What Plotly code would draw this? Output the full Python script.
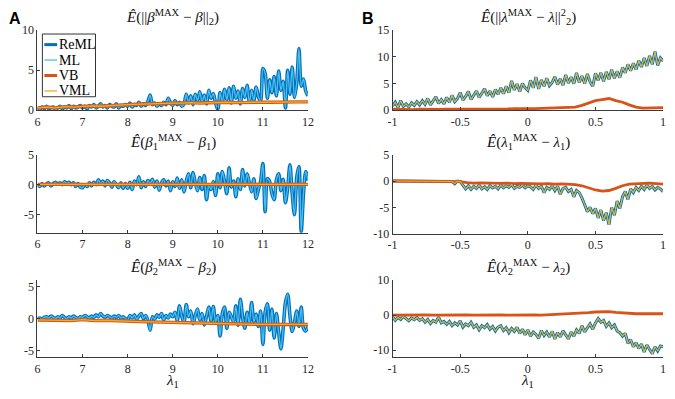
import numpy as np
import plotly.graph_objects as go

# ---------------- data ----------------
# Column A: x = lambda_1 from 6 to 12
A_top_reml = [0.3,0.1,0.4,0.2,0.5,0.2,0.3,0.4,0.1,0.3,0.5,0.2,0.4,0.3,0.6,0.2,0.5,0.3,0.4,0.6,
              0.3,0.5,0.2,0.6,0.4,0.7,0.3,0.5,0.8,0.4,0.6,0.3,0.7,0.5,0.4,0.8,0.3,0.6,0.5,0.7,
              0.5,0.9,0.4,0.7,0.6,1.0,0.5,0.8,0.6,1.1,1.9,0.7,0.9,0.5,0.8,0.6,1.0,0.7,1.5,0.9,
              0.6,1.2,0.7,1.0,0.5,0.8,2.0,0.9,1.8,0.7,2.0,1.2,2.3,1.0,1.9,0.8,2.5,1.5,2.1,0.9,
              0.1,2.2,1.0,2.6,1.3,2.8,0.9,3.0,1.5,2.4,0.8,2.7,1.6,3.1,1.0,2.5,1.2,2.9,1.7,1.1,
              5.2,4.6,1.5,3.8,2.2,4.2,1.8,4.9,2.5,3.6,0.3,5.0,2.0,5.4,1.6,3.4,7.7,3.0,3.9,2.4,
              1.8]
A_top_vb = [0.3,0.4,0.3,0.45,0.4,0.5,0.55,0.5,0.6,0.65,0.7,0.75,0.8,0.85,0.85,0.9,
            0.9,0.95,0.9,0.95,0.95,1.0,0.95,1.0,1.0,1.0,1.0,1.05,1.0,1.05,1.05]

A_mid_reml = [0.0,-0.3,0.2,-0.2,0.1,0.3,-0.2,0.2,0.4,0.1,0.3,0.0,0.5,0.2,0.4,0.0,0.3,-0.3,0.2,-0.4,
              -0.5,0.0,-0.3,0.3,-0.2,0.4,0.0,0.8,0.2,0.6,-0.2,0.7,0.3,-0.4,0.5,0.0,-0.5,0.3,-0.6,0.2,
              -0.6,0.4,-0.8,0.6,0.0,1.3,-0.5,0.5,-0.3,0.7,0.2,0.9,-0.4,0.6,-0.9,0.3,0.8,-0.2,0.6,-1.0,
              0.5,-0.3,1.1,-0.6,0.8,-1.2,0.6,1.8,-0.5,2.0,0.3,-1.0,1.2,-0.8,1.5,-2.5,0.0,-0.8,0.5,-1.8,
              1.8,-0.5,2.2,0.5,-1.5,2.8,-0.4,0.6,-2.0,1.0,-0.8,2.5,-0.2,1.8,0.3,-1.2,1.0,-2.3,-0.8,0.6,
              3.5,-4.5,1.0,0.5,-1.5,-2.5,0.8,1.8,-1.0,0.9,-3.0,-0.5,3.3,-1.5,-5.0,1.2,3.0,-7.8,-1.5,2.2,
              0.7]
A_mid_vb = [0.05,0.05,0.05,0.05,0.05,0.05,0.05,0.05,0.05,0.05,0.05,0.05,0.05]

A_bot_reml = [0.0,0.1,-0.1,0.2,0.3,0.1,0.4,0.2,0.0,0.3,0.1,0.5,0.2,0.0,0.3,0.1,0.4,0.2,0.0,0.3,
              0.2,0.5,0.3,0.1,0.4,0.2,0.6,0.3,0.8,0.4,0.2,0.5,0.3,0.1,0.4,0.2,0.5,0.1,0.3,0.0,
              -0.2,0.5,0.1,0.6,-0.1,0.4,0.8,0.0,0.5,-0.3,-1.8,0.3,-0.1,0.6,0.2,0.8,-0.2,0.5,0.1,0.7,
              0.3,1.0,-0.3,2.0,0.4,-0.6,2.2,0.3,1.2,-0.8,0.5,1.5,-0.2,0.8,-1.0,0.4,1.8,-0.4,1.9,-0.5,
              0.5,-2.7,0.8,1.8,-1.5,1.0,0.3,-0.5,2.0,-1.0,3.0,0.2,-1.5,1.0,-0.8,2.5,-0.5,0.7,-1.2,1.2,
              -4.0,1.0,2.3,-1.8,1.5,-3.0,0.8,-2.2,-4.7,-1.5,2.5,3.8,0.5,-2.0,-0.6,1.2,-1.2,1.8,-1.5,-1.9,
              -1.2]
A_bot_vb = [-0.2,-0.25,-0.2,-0.3,-0.15,-0.3,-0.25,-0.35,-0.4,-0.45,-0.5,-0.55,-0.6,
            -0.65,-0.7,-0.75,-0.8,-0.8,-0.85,-0.85,-0.9,-0.9,-0.9,-0.85,-0.9]

# Column B: x = lambda_1 from -1 to 1
B_top_reml = [0.8,1.5,0.5,1.8,0.7,1.2,0.6,1.4,0.9,1.6,
              1.0,1.8,1.1,2.2,1.0,1.7,2.5,1.3,2.0,1.2,
              2.4,1.5,2.8,1.6,2.2,3.3,1.9,2.6,3.5,2.0,
              2.8,3.6,2.4,3.2,4.0,2.7,3.6,2.5,3.9,3.0,
              4.2,3.1,4.5,3.3,5.5,3.8,4.9,3.5,5.0,4.2,
              3.7,5.6,4.2,6.2,4.0,5.7,4.5,6.0,4.6,5.2,
              6.3,4.8,5.9,4.7,6.6,5.1,6.2,5.0,7.0,5.2,
              6.4,5.0,6.8,5.3,4.5,6.9,5.6,7.0,5.4,7.2,
              5.8,7.6,6.0,7.3,6.1,8.0,7.0,8.6,7.4,8.8,
              7.6,9.3,8.1,9.8,8.3,10.2,8.6,11.0,8.4,9.8,
              9.2]
B_top_vb = [0.2,0.15,0.2,0.1,0.2,0.15,0.2,0.15,0.2,0.2,0.15,0.2,0.2,0.25,0.2,0.25,0.2,0.25,0.3,0.25,
            0.3,0.3,0.35,0.3,0.35,0.4,0.5,0.6,0.9,1.4,1.8,2.0,2.2,1.8,1.5,1.0,0.6,0.4,0.4,0.5,0.5]

B_mid_reml = [0,0,0,0,0,0,0,0,0,0,
              0,0,0,0,0,0,0,0,0,0,
              0,0,-0.1,-0.5,0,-0.1,-0.8,-1.5,-0.9,-1.6,
              -1.0,-1.4,-0.8,-1.5,-1.1,-1.6,-0.9,-1.3,-1.0,-1.5,
              -0.8,-1.3,-0.9,-1.2,-0.7,-1.4,-1.0,-1.2,-0.8,-1.3,
              -0.9,-1.1,-1.6,-0.8,-1.4,-1.0,-2.2,-1.2,-1.6,-0.9,
              -1.8,-1.0,-2.5,-1.4,-1.2,-2.0,-1.6,-3.0,-1.8,-2.2,
              -3.2,-4.5,-5.8,-5.0,-6.2,-5.2,-7.0,-5.5,-7.5,-6.0,
              -8.3,-5.0,-6.5,-3.8,-5.2,-3.0,-2.0,-3.5,-1.5,-2.2,
              -1.2,-1.8,-1.0,-1.6,-0.8,-1.4,-1.0,-1.7,-1.2,-1.5,
              -2.0]
B_mid_vb = [0,0,0,0,0,0,0,0,0,0,
            -0.1,-0.3,-0.4,-0.35,-0.4,-0.4,-0.45,-0.4,-0.5,-0.45,
            -0.5,-0.5,-0.55,-0.5,-0.6,-0.55,-0.6,-0.7,-0.9,-1.3,
            -1.7,-1.9,-1.8,-1.4,-0.9,-0.6,-0.5,-0.5,-0.4,-0.5,-0.6]

B_bot_reml = [-0.5,-1.5,-0.6,-1.2,-0.4,-1.0,-1.6,-0.8,-1.3,-0.7,
              -1.5,-1.0,-2.0,-1.2,-2.4,-1.5,-2.0,-0.6,-2.2,-1.8,
              -2.6,-1.8,-3.0,-2.2,-2.8,-1.6,-3.4,-2.5,-3.0,-2.0,
              -3.5,-2.8,-4.2,-3.0,-3.6,-2.7,-4.0,-3.2,-4.5,-3.4,
              -3.0,-4.4,-3.6,-5.0,-3.8,-4.6,-3.5,-5.2,-4.0,-5.6,
              -4.2,-6.0,-4.8,-5.5,-6.6,-4.4,-5.8,-4.8,-6.2,-4.6,
              -6.8,-5.0,-6.2,-4.5,-5.8,-6.8,-4.8,-6.0,-4.2,-5.2,
              -3.0,-4.8,-3.6,-2.5,-4.0,-2.2,-1.0,-2.0,-1.5,-3.2,
              -2.2,-3.6,-2.8,-4.5,-5.0,-6.0,-5.2,-8.0,-7.0,-9.0,
              -7.8,-9.5,-8.2,-10.5,-8.5,-9.8,-11.0,-9.0,-10.2,-8.8,
              -9.0]
B_bot_vb = [0.0,0.05,0.0,0.05,0.0,0.05,0.0,0.05,0.0,0.05,0.0,0.05,0.0,0.05,0.05,0.0,0.05,0.0,0.05,0.0,
            0.05,0.05,0.0,0.1,0.05,0.1,0.2,0.3,0.5,0.7,0.9,1.0,1.0,0.8,0.6,0.5,0.4,0.4,0.3,0.4,0.4]

A_xrange = [6, 12]
B_xrange = [-1, 1]
A_xticks = [6, 7, 8, 9, 10, 11, 12]
B_xticks = [-1, -0.5, 0, 0.5, 1]
B_xticktext = ["-1", "-0.5", "0", "0.5", "1"]

series_names = ["ReML", "ML", "VB", "VML"]
colors = {"ReML": "#0072BD", "ML": "#4DBEEE", "VB": "#D95319", "VML": "#EDB120"}

# ---------------- figure ----------------
W, H = 675, 399
SERIF = "Times New Roman, Liberation Serif, Times, serif"
AXC = "#3a3a3a"

def px_x(p):
    return p / W

def px_y(p):
    return 1 - p / H

fig = go.Figure()

panels = [
    ("x", "y", "A", A_top_reml, A_top_vb, [0, 10], [0, 5, 10],
     "<i>Ê</i>(||<i>β</i><sup>MAX</sup> − <i>β</i>||<sub>2</sub>)", (24, 107)),
    ("x2", "y2", "A", A_mid_reml, A_mid_vb, [-8, 5], [-5, 0, 5],
     "<i>Ê</i>(<i>β</i><sub>1</sub><sup>MAX</sup> − <i>β</i><sub>1</sub>)", (153, 234)),
    ("x3", "y3", "A", A_bot_reml, A_bot_vb, [-6, 6], [-5, 0, 5],
     "<i>Ê</i>(<i>β</i><sub>2</sub><sup>MAX</sup> − <i>β</i><sub>2</sub>)", (283, 363)),
    ("x4", "y4", "B", B_top_reml, B_top_vb, [0, 15], [0, 5, 10, 15],
     "<i>Ê</i>(||<i>λ</i><sup>MAX</sup> − <i>λ</i>||<sup>2</sup><sub>2</sub>)", (24, 107)),
    ("x5", "y5", "B", B_mid_reml, B_mid_vb, [-10, 5], [-10, -5, 0, 5],
     "<i>Ê</i>(<i>λ</i><sub>1</sub><sup>MAX</sup> − <i>λ</i><sub>1</sub>)", (153, 235)),
    ("x6", "y6", "B", B_bot_reml, B_bot_vb, [-12, 10], [-10, 0, 10],
     "<i>Ê</i>(<i>λ</i><sub>2</sub><sup>MAX</sup> − <i>λ</i><sub>2</sub>)", (283, 363)),
]

col_px = {"A": (33, 308), "B": (394, 669)}
widths = {"A": (3.6, 1.3, 3.4, 1.3), "B": (3.0, 1.0, 2.8, 1.1)}

layout_axes = {}
annotations = []
for xa, ya, col, reml, vb, yr, yt, title, (ptop, pbot) in panels:
    xr = A_xrange if col == "A" else B_xrange
    xr_reml = np.linspace(xr[0], xr[1], len(reml))
    xr_vb = np.linspace(xr[0], xr[1], len(vb))
    w = widths[col]
    shp = "spline" if col == "A" else "linear"
    fig.add_trace(go.Scatter(x=xr_reml, y=reml, mode="lines", xaxis=xa, yaxis=ya,
                             line=dict(color=colors["ReML"], width=w[0], shape=shp, smoothing=0.8),
                             showlegend=False, name="ReML"))
    fig.add_trace(go.Scatter(x=xr_reml, y=reml, mode="lines", xaxis=xa, yaxis=ya,
                             line=dict(color=colors["ML"], width=w[1], shape=shp, smoothing=0.8),
                             showlegend=False, name="ML"))
    fig.add_trace(go.Scatter(x=xr_vb, y=vb, mode="lines", xaxis=xa, yaxis=ya,
                             line=dict(color=colors["VB"], width=w[2]), showlegend=False, name="VB"))
    vml = reml if col == "B" else vb
    xvml = xr_reml if col == "B" else xr_vb
    fig.add_trace(go.Scatter(x=xvml, y=vml, mode="lines", xaxis=xa, yaxis=ya,
                             line=dict(color=colors["VML"], width=w[3]), showlegend=False, name="VML"))

    cx0, cx1 = col_px[col]
    xkey = "xaxis" + xa[1:]
    ykey = "yaxis" + ya[1:]
    layout_axes[xkey] = dict(
        domain=[px_x(cx0), px_x(cx1)], anchor=ya, range=xr,
        tickvals=A_xticks if col == "A" else B_xticks,
        ticktext=[str(v) for v in A_xticks] if col == "A" else B_xticktext,
        showline=True, linecolor=AXC, linewidth=1, ticks="inside", ticklen=3,
        tickcolor=AXC, showgrid=False, zeroline=False, ticklabeloverflow="allow",
        tickfont=dict(family=SERIF, size=12, color="#262626"))
    layout_axes[ykey] = dict(
        domain=[px_y(pbot), px_y(ptop)], anchor=xa, range=yr, tickvals=yt,
        ticktext=[str(v) for v in yt],
        showline=True, linecolor=AXC, linewidth=1, ticks="inside", ticklen=3,
        tickcolor=AXC, showgrid=False, zeroline=False, ticklabeloverflow="allow",
        tickfont=dict(family=SERIF, size=12, color="#262626"))
    annotations.append(dict(text=title, x=px_x((cx0 + cx1) / 2), y=px_y(ptop - 1),
                            xref="paper", yref="paper", xanchor="center", yanchor="bottom",
                            showarrow=False, font=dict(family=SERIF, size=15, color="#111")))

# x-axis titles
for col in ("A", "B"):
    cx0, cx1 = col_px[col]
    annotations.append(dict(text="<i>λ</i><sub>1</sub>", x=px_x((cx0 + cx1) / 2), y=px_y(399),
                            xref="paper", yref="paper", xanchor="center", yanchor="bottom",
                            showarrow=False, font=dict(family=SERIF, size=15, color="#111")))

# panel letters
annotations.append(dict(text="<b>A</b>", x=px_x(2), y=px_y(12), xref="paper", yref="paper",
                        xanchor="left", yanchor="middle", showarrow=False,
                        font=dict(family="Liberation Sans, Arial", size=16, color="#000")))
annotations.append(dict(text="<b>B</b>", x=px_x(361), y=px_y(12), xref="paper", yref="paper",
                        xanchor="left", yanchor="middle", showarrow=False,
                        font=dict(family="Liberation Sans, Arial", size=16, color="#000")))

# legend (drawn inside the top-left panel)
shapes = [dict(type="rect", xref="paper", yref="paper", x0=px_x(38), x1=px_x(92),
               y0=px_y(93), y1=px_y(28), line=dict(color="#333", width=1), fillcolor="white",
               layer="above")]
leg_rows = [39, 55, 71, 87]
leg_w = [3, 1.3, 3, 1.3]
for name, ry, lw in zip(series_names, leg_rows, leg_w):
    shapes.append(dict(type="line", xref="paper", yref="paper", x0=px_x(40), x1=px_x(53),
                       y0=px_y(ry), y1=px_y(ry), line=dict(color=colors[name], width=lw),
                       layer="above"))
    annotations.append(dict(text=name, x=px_x(53), y=px_y(ry), xref="paper", yref="paper",
                            xanchor="left", yanchor="middle", showarrow=False,
                            font=dict(family=SERIF, size=14, color="#000")))

fig.update_layout(width=W, height=H, margin=dict(l=0, r=0, t=0, b=0),
                  paper_bgcolor="white", plot_bgcolor="white",
                  font=dict(family=SERIF),
                  annotations=annotations, shapes=shapes, showlegend=False, **layout_axes)

fig.write_html("out.html", config={"displayModeBar": False},
               post_script="document.body.style.margin='0px';")
